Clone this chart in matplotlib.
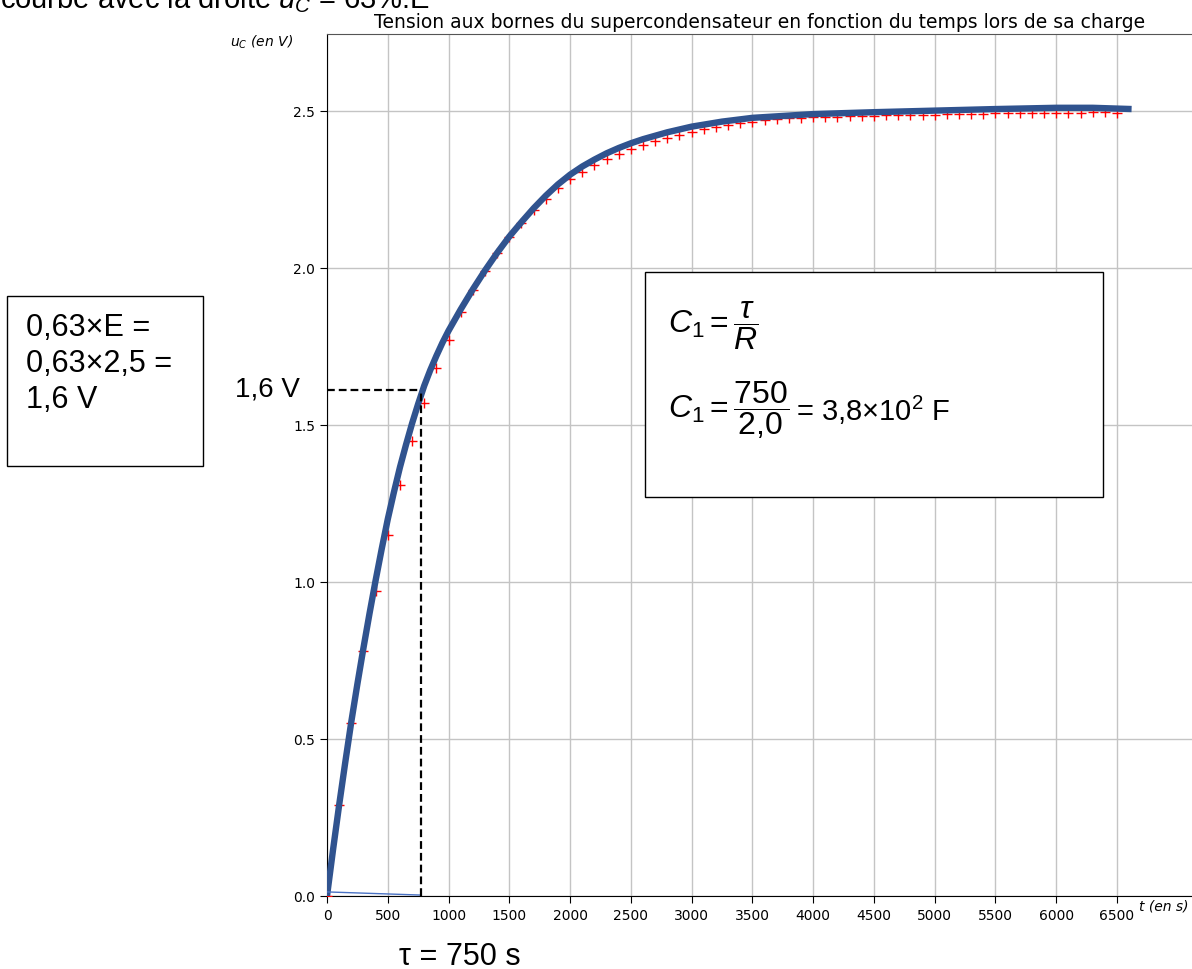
import matplotlib.pyplot as plt
from matplotlib.patches import Rectangle

plt.rcParams['mathtext.fontset'] = 'custom'
plt.rcParams['mathtext.rm'] = 'Liberation Sans'
plt.rcParams['mathtext.it'] = 'Liberation Sans:italic'

# mesures (t en s, uC en V)
t_mes = [0, 100, 200, 300, 400, 500, 600, 700, 800, 900,
         1000, 1100, 1200, 1300, 1400, 1500, 1600, 1700, 1800, 1900,
         2000, 2100, 2200, 2300, 2400, 2500, 2600, 2700, 2800, 2900,
         3000, 3100, 3200, 3300, 3400, 3500, 3600, 3700, 3800, 3900,
         4000, 4100, 4200, 4300, 4400, 4500, 4600, 4700, 4800, 4900,
         5000, 5100, 5200, 5300, 5400, 5500, 5600, 5700, 5800, 5900,
         6000, 6100, 6200, 6300, 6400, 6500]
u_mes = [0.0, 0.29, 0.55, 0.78, 0.97, 1.15, 1.31, 1.45, 1.57, 1.68,
         1.77, 1.86, 1.93, 1.99, 2.047, 2.098, 2.143, 2.184, 2.22, 2.254,
         2.283, 2.306, 2.327, 2.346, 2.363, 2.379, 2.391, 2.403, 2.414, 2.424,
         2.433, 2.441, 2.448, 2.454, 2.46, 2.466, 2.47, 2.473, 2.476, 2.478,
         2.48, 2.481, 2.482, 2.483, 2.484, 2.485, 2.486, 2.487, 2.487, 2.488,
         2.488, 2.489, 2.49, 2.49, 2.491, 2.492, 2.493, 2.493, 2.494, 2.494,
         2.495, 2.495, 2.495, 2.496, 2.496, 2.495]

# courbe modelisee
t_mod = [0, 50, 100, 150, 200, 250, 300, 350, 400, 450, 500, 550, 600, 650,
         700, 750, 800, 850, 900, 950, 1000, 1100, 1200, 1300, 1400, 1500,
         1600, 1700, 1800, 1900, 2000, 2100, 2200, 2300, 2400, 2500, 2600,
         2800, 3000, 3250, 3500, 4000, 4500, 5000, 5500, 6000, 6300, 6620]
u_mod = [0.0, 0.148, 0.29, 0.425, 0.555, 0.675, 0.79, 0.9, 1.005, 1.105, 1.2, 1.285, 1.365, 1.437,
         1.505, 1.567, 1.625, 1.675, 1.72, 1.762, 1.80, 1.868, 1.932, 1.992, 2.048, 2.1,
         2.146, 2.19, 2.23, 2.266, 2.297, 2.323, 2.345, 2.365, 2.382, 2.397, 2.41,
         2.432, 2.45, 2.466, 2.478, 2.49, 2.496, 2.501, 2.506, 2.51, 2.51, 2.506]

# trait parasite en bas
t_trait = [0, 770]
u_trait = [0.013, 0.003]

tau_lu = 770
u_63 = 1.61

fig = plt.figure(figsize=(11.92, 9.70), dpi=100)
fig.patch.set_facecolor('white')
ax = fig.add_axes([327 / 1192, 1 - 897 / 970, 865 / 1192, 862 / 970])

ax.plot(t_mes, u_mes, '+', color='red', markersize=6.5, mew=1, zorder=3)
ax.plot(t_mod, u_mod, '-', color='#30538f', lw=4.6, solid_capstyle='butt', zorder=4)
ax.plot(t_trait, u_trait, '-', color='#4a72c4', lw=1, zorder=4)

ax.plot([0, tau_lu], [u_63, u_63], '--', color='black', lw=1.6, dashes=(3.5, 1.8), zorder=5)
ax.plot([tau_lu, tau_lu], [0, u_63], '--', color='black', lw=1.6, dashes=(3.5, 1.8), zorder=5)

ax.set_xlim(0, 7117)
ax.set_ylim(0, 2.745)
ax.set_xticks(range(0, 7000, 500))
ax.set_yticks([0.0, 0.5, 1.0, 1.5, 2.0, 2.5])
ax.tick_params(labelsize=10, length=5)
ax.grid(True, color='#c4c4c4', lw=1)
ax.spines['right'].set_visible(False)
ax.spines['top'].set_color('#555555')

ax.set_title('Tension aux bornes du supercondensateur en fonction du temps lors de sa charge',
             fontsize=13.5, pad=5)
fig.text(293 / 1192, 1 - 42 / 970, '$u_C$ (en V)', ha='right', va='center',
         fontsize=10, style='italic', family='DejaVu Sans',
         math_fontfamily='dejavusans')
fig.text(1139 / 1192, 1 - 907 / 970, 't (en s)', ha='left', va='center',
         fontsize=10, style='italic')

# textes ajoutes autour du graphe
txt = dict(family='Liberation Sans', color='black')
fig.text(0.0, 1 - 8 / 970, 'courbe avec la droite $\\mathit{u}_C$ = 63%.E', fontsize=21,
         va='baseline', ha='left', **txt)
fig.text(300 / 1192, 1 - 390 / 970, '1,6 V', fontsize=20, ha='right', va='center', **txt)
fig.text(460 / 1192, 1 - 957 / 970, '\u03c4 = 750 s', fontsize=22, ha='center', va='center', **txt)

fig.patches.append(Rectangle((7 / 1192, 1 - 467 / 970), 196 / 1192, 170 / 970,
                             transform=fig.transFigure, fill=False, ec='black', lw=1))
fig.text(26 / 1192, 1 - 328 / 970, '0,63\u00d7E =', fontsize=22, va='center', **txt)
fig.text(26 / 1192, 1 - 364 / 970, '0,63\u00d72,5 =', fontsize=22, va='center', **txt)
fig.text(26 / 1192, 1 - 400 / 970, '1,6 V', fontsize=22, va='center', **txt)

fig.patches.append(Rectangle((645 / 1192, 1 - 498 / 970), 458 / 1192, 225 / 970,
                             transform=fig.transFigure, fc='white', ec='black', lw=1,
                             zorder=6))
fig.text(668 / 1192, 1 - 326 / 970, r'$C_1 = \dfrac{\tau}{R}$', fontsize=23,
         va='center', zorder=7, **txt)
fig.text(668 / 1192, 1 - 410 / 970, r'$C_1 = \dfrac{750}{2{,}0}$', fontsize=23,
         va='center', zorder=7, **txt)
fig.text(796 / 1192, 1 - 410 / 970, '= 3,8\u00d710$^2$ F', fontsize=21,
         va='center', zorder=7, **txt)

fig.savefig('out.png', dpi=100)
